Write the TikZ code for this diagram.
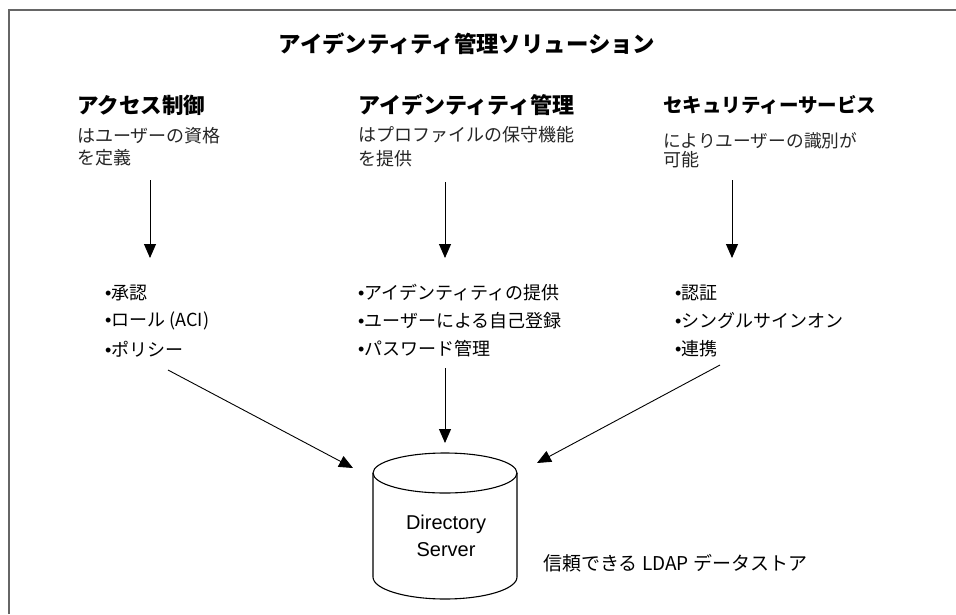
\documentclass[tikz,border=0pt]{standalone}
\usepackage{fontspec}
\setmainfont{Liberation Sans}
\newfontfamily\jp{Noto Sans CJK JP}
\newfontfamily\lib{Liberation Sans}
\usetikzlibrary{arrows.meta}
\newcommand{\blt}{{\lib •}}
\begin{document}
\begin{tikzpicture}[x=1pt,y=-1pt,
  ttl/.style={inner sep=0pt, font=\jp\bfseries\fontsize{22.4}{26}\selectfont},
  hd/.style={anchor=west, inner sep=0pt, font=\jp\bfseries\fontsize{21.5}{24}\selectfont},
  sub/.style={anchor=west, inner sep=0pt, text=black!85, font=\jp\fontsize{18}{20}\selectfont},
  bl/.style={anchor=west, inner sep=0pt, font=\jp\fontsize{18}{20}\selectfont},
  arr/.style={-{Triangle[length=14pt,width=12pt]}, line width=0.9pt},
  cyl/.style={line width=1.1pt}]
\useasboundingbox (0,0) rectangle (956,614);
% frame
\draw[black!60, line width=2pt] (8.5,614) -- (8.5,9.5) -- (956,9.5);
% title
\node[ttl] (title) at (467,44) {アイデンティティ管理ソリューション};
% headers
\node[hd] (h1) at (77,105) {アクセス制御};
\node[hd, font=\jp\bfseries\fontsize{22}{24}\selectfont] (h2) at (358,105) {アイデンティティ管理};
\node[hd, font=\jp\bfseries\fontsize{19.5}{24}\selectfont] (h3) at (663,105) {セキュリティーサービス};
% sub texts
\node[sub] (s1a) at (77,136) {はユーザーの資格};
\node[sub] (s1b) at (77,158) {を定義};
\node[sub] (s2a) at (358,135) {はプロファイルの保守機能};
\node[sub] (s2b) at (358,159) {を提供};
\node[sub, font=\jp\fontsize{17.7}{20}\selectfont] (s3a) at (663,141) {によりユーザーの識別が};
\node[sub] (s3b) at (663,160) {可能};
% bullets
\node[bl] (b1a) at (105,293) {\blt 承認};
\node[bl] (b1b) at (105,321) {\blt ロール (ACI)};
\node[bl] (b1c) at (105,349) {\blt ポリシー};
\node[bl] (b2a) at (358,293) {\blt アイデンティティの提供};
\node[bl] (b2b) at (358,321) {\blt ユーザーによる自己登録};
\node[bl] (b2c) at (358,349) {\blt パスワード管理};
\node[bl] (b3a) at (675,293) {\blt 認証};
\node[bl] (b3b) at (675,321) {\blt シングルサインオン};
\node[bl] (b3c) at (675,349) {\blt 連携};
% cylinder
\draw[cyl] (445,473) ellipse [x radius=72pt, y radius=20pt];
\draw[cyl] (373,473) -- (373,577) arc[start angle=180, end angle=360, x radius=72pt, y radius=22pt] -- (517,473);
\node[inner sep=0pt, align=center, font=\lib\fontsize{20}{27}\selectfont] (db) at (446,536) {Directory\\Server};
\node[anchor=west, inner sep=0pt, font=\jp\fontsize{19}{22}\selectfont] (store) at (543,563) {信頼できる LDAP データストア};
% arrow end points
\coordinate (v1s) at (150,180); \coordinate (v1e) at (150,258);
\coordinate (v2s) at (445,182); \coordinate (v2e) at (445,258);
\coordinate (v3s) at (732,180); \coordinate (v3e) at (732,258);
\coordinate (d1s) at (168,370); \coordinate (d1e) at (353,468);
\coordinate (d2s) at (445,368); \coordinate (d2e) at (445,443);
\coordinate (d3s) at (720,365); \coordinate (d3e) at (537,463);
\draw[arr] (v1s) -- (v1e);
\draw[arr] (v2s) -- (v2e);
\draw[arr] (v3s) -- (v3e);
\draw[arr] (d1s) -- (d1e);
\draw[arr] (d2s) -- (d2e);
\draw[arr] (d3s) -- (d3e);
\end{tikzpicture}
\end{document}
